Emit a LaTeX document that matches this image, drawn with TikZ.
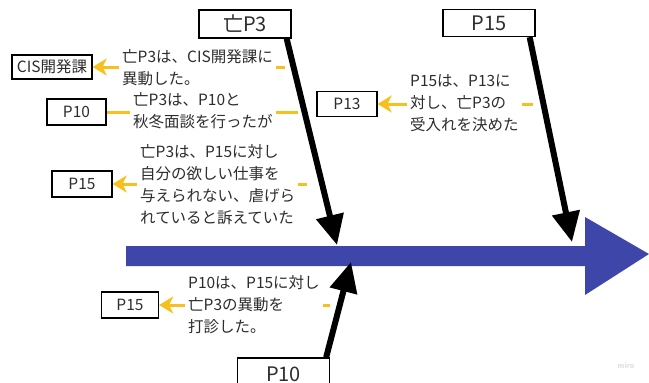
\documentclass[tikz,border=0pt]{standalone}
\usepackage{fontspec}
\setmainfont{Noto Sans CJK JP}
\usetikzlibrary{arrows.meta,calc}
\definecolor{spineblue}{RGB}{62,70,170}
\definecolor{amber}{RGB}{247,192,30}
\definecolor{ink}{RGB}{45,45,45}
\begin{document}
\begin{tikzpicture}[x=1pt,y=-1pt,
  lbl/.style={draw=black, line width=1.3pt, text=ink, inner sep=0pt, font=\fontsize{15.5}{18}\selectfont},
  bigbox/.style={draw=black, line width=1.3pt, text=ink, inner sep=0pt, font=\fontsize{20}{24}\selectfont, minimum width=92pt, minimum height=28pt},
  note/.style={anchor=west, align=left, fill=white, text=ink, inner xsep=3pt, inner ysep=1pt, font=\fontsize{15.5}{22}\selectfont},
  cause/.style={line width=6pt, draw=black, -{Triangle[width=27pt,length=30pt]}},
  yarrow/.style={line width=3pt, draw=amber, -{Stealth[width=17pt,length=14pt,inset=4pt]}},
  yline/.style={line width=3pt, draw=amber},
]
\useasboundingbox (0,0) rectangle (649,383);
\clip (0,0) rectangle (649,383);

% spine
\fill[spineblue] (126,246) -- (585,246) -- (585,217) -- (649,254) -- (585,295) -- (585,266) -- (126,266) -- cycle;

% main boxes
\node[bigbox] (p3top) at (245,24) {亡P3};
\node[bigbox, minimum height=27pt] (p15top) at (489,23) {P15};
\node[bigbox, minimum height=32pt] (p10bot) at (283.5,374) {P10};

% small boxes
\node[lbl, minimum width=80pt, minimum height=24pt] (cis) at (52,67) {CIS開発課};
\node[lbl, minimum width=59pt, minimum height=26pt] (p10) at (76.5,112) {P10};
\node[lbl, minimum width=60pt, minimum height=26pt] (p15a) at (82,184) {P15};
\node[lbl, minimum width=60pt, minimum height=25pt] (p13) at (347,104) {P13};
\node[lbl, minimum width=57pt, minimum height=26pt] (p15b) at (130,305) {P15};

% spine points
\coordinate (t1) at (337,245);
\coordinate (t2) at (572,242);
\coordinate (t3) at (351,262);

% cause arrows
\draw[cause] ([xshift=-5pt]p3top.south east) -- (t1);
\draw[cause] ([xshift=-6pt]p15top.south east) -- (t2);
\draw[cause] ([xshift=-4pt]p10bot.north east) -- (t3);

% yellow connectors
\coordinate (d1) at (285,67);
\coordinate (d2) at (298,112);
\coordinate (d3) at (307,184);
\coordinate (d4) at (533,104);
\coordinate (d5) at (330,305);
\draw[yarrow] (d1) -- (d1 -| cis.east);
\draw[yline] (d2) -- (d2 -| p10.east);
\draw[yarrow] (d3) -- (d3 -| p15a.east);
\draw[yarrow] (d4) -- (d4 -| p13.east);
\draw[yarrow] (d5) -- (d5 -| p15b.east);

% notes
\node[note] (n1) at (119,68) {亡P3は、CIS開発課に\\異動した。};
\node[note] (n2) at (130,111) {亡P3は、P10と\\秋冬面談を行ったが};
\node[note] (n3) at (137,184.5) {亡P3は、P15に対し\\自分の欲しい仕事を\\与えられない、虐げら\\れていると訴えていた};
\node[note] (n4) at (407,103) {P15は、P13に\\対し、亡P3の\\受入れを決めた};
\node[note] (n5) at (185,305) {P10は、P15に対し\\亡P3の異動を\\打診した。};

% watermark
\node[text=black!12, font=\fontsize{7}{8}\selectfont\bfseries] (wm) at (626,366) {miro};
\end{tikzpicture}
\end{document}
